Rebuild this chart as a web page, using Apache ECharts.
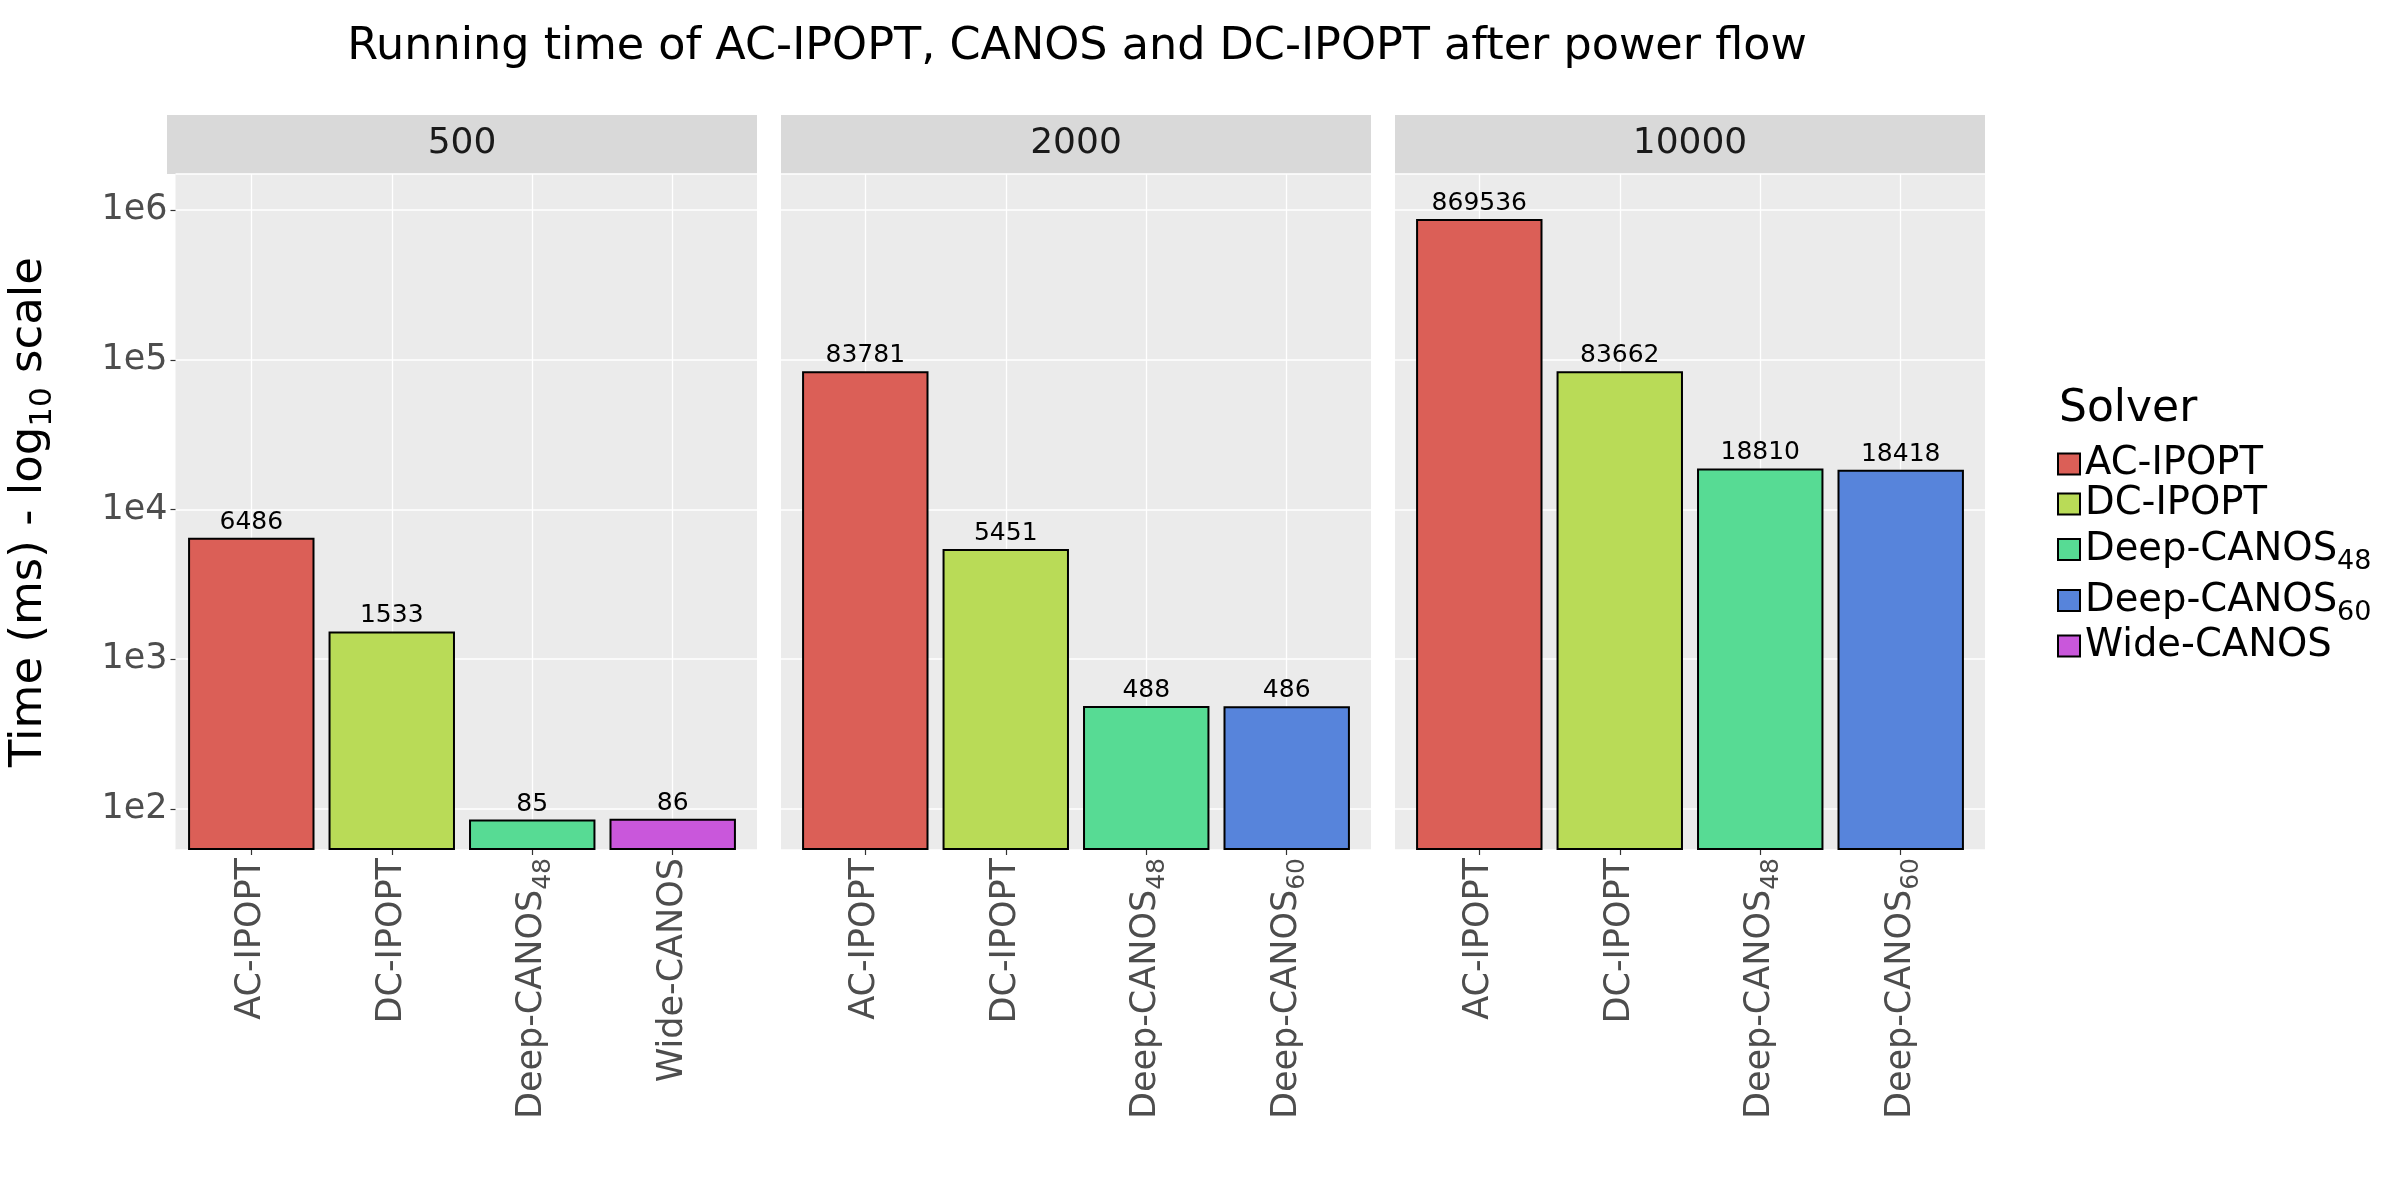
<!DOCTYPE html>
<html>
<head>
<meta charset="UTF-8">
<title>Running time of AC-IPOPT, CANOS and DC-IPOPT after power flow</title>
<script src="https://cdn.jsdelivr.net/npm/echarts@6/dist/echarts.min.js"></script>
<style>
  html, body { margin: 0; padding: 0; background: #fff; }
  #main { width: 2400px; height: 1200px; }
</style>
</head>
<body>
<div id="main"></div>
<script>
// facet titles (grid size)
var panelNames = ['500', '2000', '10000'];
var solverNames = ['AC-IPOPT', 'DC-IPOPT', 'Deep-CANOS48', 'Deep-CANOS60', 'Wide-CANOS'];
var solverColors = ['#db5f57', '#b9db57', '#57db94', '#5784db', '#c957db'];

var categories500 = ['AC-IPOPT', 'DC-IPOPT', 'Deep-CANOS48', 'Wide-CANOS'];
var times500 = [6486, 1533, 85, 86];
var categories2000 = ['AC-IPOPT', 'DC-IPOPT', 'Deep-CANOS48', 'Deep-CANOS60'];
var times2000 = [83781, 5451, 488, 486];
var categories10000 = ['AC-IPOPT', 'DC-IPOPT', 'Deep-CANOS48', 'Deep-CANOS60'];
var times10000 = [869536, 83662, 18810, 18418];

var yTickLabels = ['1e2', '1e3', '1e4', '1e5', '1e6'];
var yMin = 53.2, yMax = 1.74e6;

var FONT = 'DejaVu Sans';

// layout of the facets
var panelLeft = [167, 781, 1395];
var panelW = 590, panelTop = 174, panelH = 676;
var stripTop = 115, stripH = 59;
var unit = panelW / 4.2;      // one category step, like ggplot's discrete scale
var inset = unit * 0.1;

var panelCats = [categories500, categories2000, categories10000];
var panelVals = [times500, times2000, times10000];

function subFmt(s) {
  return s.replace(/(\d+)$/, '{sub|$1}');
}

var myChart = echarts.init(document.getElementById('main'), null, { renderer: 'canvas' });

var grids = [], xAxes = [], yAxes = [], graphics = [];

// outer grids: grey panel + horizontal grid lines
panelLeft.forEach(function (left, p) {
  grids.push({ left: left, top: panelTop, width: panelW, height: panelH, show: true,
    backgroundColor: '#EBEBEB', borderWidth: 0, containLabel: false });
  xAxes.push({ type: 'value', gridIndex: p, min: 0, max: 1, show: false });
  yAxes.push({
    type: 'log', logBase: 10, gridIndex: p, min: yMin, max: yMax,
    axisLine: { show: false },
    axisTick: { show: p === 0, length: 5, lineStyle: { color: '#333333', width: 1.2 } },
    axisLabel: {
      show: p === 0, showMinLabel: false, showMaxLabel: false, margin: 8,
      fontSize: 35, color: '#4D4D4D', fontFamily: FONT,
      formatter: function (v) {
        var e = Math.round(Math.log10(v));
        return yTickLabels[e - 2] || '';
      }
    },
    splitLine: { show: true, lineStyle: { color: '#FFFFFF', width: 1.6 } },
    name: p === 0 ? 'Time (ms) - log{sub|10} scale' : '',
    nameLocation: 'middle', nameRotate: 90, nameGap: 121,
    nameTextStyle: {
      fontSize: 45, color: '#000', fontFamily: FONT, lineHeight: 50,
      rich: { sub: { fontSize: 31, fontFamily: FONT, color: '#000', lineHeight: 50, padding: [26, 0, 0, 0] } }
    }
  });
});

// inner grids: the categories and bars
panelLeft.forEach(function (left, p) {
  grids.push({ left: left + inset, top: panelTop, width: panelW - 2 * inset, height: panelH, show: false });
  xAxes.push({
    type: 'category', gridIndex: 3 + p, data: panelCats[p],
    axisLine: { show: false },
    axisTick: { show: true, alignWithLabel: true, length: 5, lineStyle: { color: '#333333', width: 1.2 } },
    splitLine: { show: true, alignWithLabel: true, lineStyle: { color: '#FFFFFF', width: 1.3 } },
    axisLabel: {
      rotate: 90, margin: 8, fontSize: 35, color: '#4D4D4D', fontFamily: FONT, lineHeight: 40,
      interval: 0,
      formatter: subFmt,
      rich: { sub: { fontSize: 25, color: '#4D4D4D', fontFamily: FONT, lineHeight: 40, padding: [22, 0, 0, 0] } }
    }
  });
  yAxes.push({ type: 'log', logBase: 10, gridIndex: 3 + p, min: yMin, max: yMax, startValue: yMin, show: false });

  // facet strip
  graphics.push({ type: 'rect', left: left, top: stripTop, silent: true,
    shape: { width: panelW, height: stripH }, style: { fill: '#D9D9D9' } });
  graphics.push({ type: 'text', x: left + panelW / 2, y: stripTop + stripH / 2 - 1, silent: true,
    style: { text: panelNames[p], fontSize: 36, fontFamily: FONT, fill: '#1A1A1A',
      textAlign: 'center', textVerticalAlign: 'middle' } });
});

// legend title
graphics.push({ type: 'text', x: 2059, y: 410, silent: true,
  style: { text: 'Solver', fontSize: 44, fontFamily: FONT, fill: '#000', textAlign: 'left', textVerticalAlign: 'middle' } });

var series = [];
panelCats.forEach(function (cats, p) {
  cats.forEach(function (name, i) {
    var data = cats.map(function (c, j) { return j === i ? panelVals[p][j] : null; });
    series.push({
      type: 'bar', name: name, xAxisIndex: 3 + p, yAxisIndex: 3 + p,
      data: data, barWidth: '90%', barGap: '-100%', clip: true,
      itemStyle: { color: solverColors[solverNames.indexOf(name)], borderColor: '#000', borderWidth: 2 },
      label: { show: true, position: 'top', distance: 3, fontSize: 25, color: '#000', fontFamily: FONT },
      emphasis: { disabled: true }
    });
  });
});

var option = {
  animation: false,
  backgroundColor: '#FFFFFF',
  title: {
    text: 'Running time of AC-IPOPT, CANOS and DC-IPOPT after power flow',
    left: 1072, top: 20, textAlign: 'center',
    textStyle: { fontSize: 44.5, fontWeight: 'normal', color: '#000', fontFamily: FONT }
  },
  legend: {
    data: solverNames,
    orient: 'vertical', left: 2057, top: 444, padding: 0,
    itemWidth: 22, itemHeight: 21, itemGap: 0, icon: 'rect',
    itemStyle: { borderColor: '#000', borderWidth: 2 },
    formatter: subFmt,
    textStyle: {
      fontSize: 38.5, color: '#000', fontFamily: FONT, lineHeight: 40,
      rich: { sub: { fontSize: 27, color: '#000', fontFamily: FONT, lineHeight: 40, padding: [24, 0, 0, 0] } }
    }
  },
  tooltip: { show: false },
  grid: grids,
  xAxis: xAxes,
  yAxis: yAxes,
  graphic: graphics,
  series: series
};

myChart.setOption(option);
</script>
</body>
</html>
